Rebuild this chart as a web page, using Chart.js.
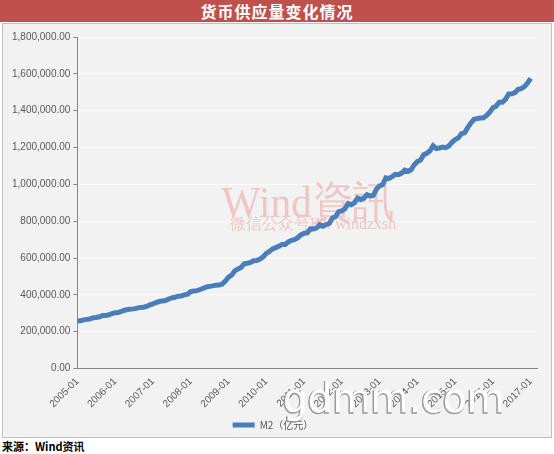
<!DOCTYPE html>
<html>
<head>
<meta charset="utf-8">
<script src="https://cdn.jsdelivr.net/npm/chart.js@4"></script>
<style>
body{margin:0;width:554px;height:454px;background:#fff;font-family:"Noto Sans CJK SC",sans-serif;overflow:hidden;}
#title{position:absolute;left:0;top:0;width:554px;height:22px;background:#c0504d;color:#fff;text-align:center;font-size:16px;font-weight:bold;line-height:22px;letter-spacing:1px;}
#box{position:absolute;left:2px;top:23px;width:548px;height:413px;border:1px solid #bfbfbf;background:#f2f2f2;overflow:hidden;}
#src{position:absolute;left:2px;top:438px;font-size:11px;font-weight:bold;color:#000;}
</style>
</head>
<body>
<div id="title">货币供应量变化情况</div>
<div id="box"><canvas id="chart" width="548" height="416"></canvas></div>
<div id="src">来源：Wind资讯</div>
<script>
// x axis labels, one per year (every 12 months)
const yearLabels=["2005-01","2006-01","2007-01","2008-01","2009-01","2010-01","2011-01","2012-01","2013-01","2014-01","2015-01","2016-01","2017-01"];

// M2 monthly, 2005-01 .. 2017-01 (亿元)
const m2=[
257708,259357,264589,266993,269240,275785,276966,281288,287438,287592,292035,298756,
303572,304516,310491,316709,320214,322756,324011,327885,331865,332747,337504,345578,
351498,358659,364105,367326,369719,377832,383884,387205,393099,394205,399757,403442,
417847,421038,423054,429314,436222,443141,446362,448846,452898,453134,458644,475167,
496135,506708,530627,540481,548264,568917,571586,576699,585405,586644,594604,606225,
625609,636072,649948,656562,663352,673922,674051,687507,696472,699776,710339,725852,
733885,736131,758131,757385,763410,780821,772923,780853,787406,816829,825494,851591,
855899,867172,895566,889605,900049,924991,917483,924894,943688,936405,940737,974149,
992129,998601,1035859,1032551,1042169,1054404,1052212,1061256,1077379,1070242,1079258,1106525,
1123521,1131760,1160687,1168813,1182300,1209588,1194249,1197499,1202051,1199236,1208606,1228374,
1242710,1252249,1275333,1280000,1308000,1333375,1353211,1356910,1359824,1361022,1373957,1392278,
1416319,1424619,1446198,1446245,1461695,1490492,1491560,1497526,1516360,1519469,1530400,1550067,
1575945
];

const seriesName="M2（亿元）";

// Wind watermark behind the line
const watermark={
    id:"watermark",
    beforeDatasetsDraw(chart){
        const c=chart.ctx;
        c.save();
        c.fillStyle="#efc6c6";
        c.textAlign="center";
        c.font="44px 'Liberation Serif', serif";
        c.fillText("Wind資訊",305,181,173);
        c.font="16px 'Liberation Serif', serif";
        c.fillText("微信公众号ID: windzxsh",310,201,170);
        c.restore();
    },
    // site stamp over the axis labels
    afterDraw(chart){
        const c=chart.ctx;
        c.save();
        c.font="40px 'DejaVu Sans', sans-serif";
        c.textAlign="left";
        c.lineWidth=1.5;
        c.strokeStyle="#9a9a9a";
        c.strokeText("gdmm.com",279,379,222);
        c.fillStyle="#ffffff";
        c.fillText("gdmm.com",280,378,222);
        c.restore();
    }
};

new Chart(document.getElementById("chart"),{
    type:"line",
    data:{
        datasets:[{
            label:seriesName,
            data:m2.map((v,i)=>({x:i,y:v})),
            borderColor:"#4a7ebb",
            backgroundColor:"#4a7ebb",
            borderWidth:5,
            pointRadius:0,
            tension:0
        }]
    },
    options:{
        responsive:false,
        animation:false,
        layout:{padding:{top:13,right:14,left:6,bottom:0}},
        plugins:{
            legend:{
                position:"bottom",
                labels:{
                    usePointStyle:true,
                    pointStyle:"line",
                    pointStyleWidth:22,
                    padding:7,
                    color:"#595959",
                    font:{size:10,family:"'Noto Sans CJK SC', sans-serif"}
                }
            },
            tooltip:{enabled:false}
        },
        scales:{
            x:{
                type:"linear",
                min:0,
                max:146,
                afterBuildTicks:s=>{s.ticks=s.ticks.filter(t=>t.value%12===0);},
                ticks:{
                    stepSize:12,
                    includeBounds:false,
                    autoSkip:false,
                    maxRotation:45,
                    minRotation:45,
                    color:"#595959",
                    font:{size:10,family:"Liberation Sans"},
                    callback:v=>yearLabels[v/12]
                },
                grid:{display:false,drawTicks:true,tickLength:4,color:"#868686"},
                border:{color:"#868686"}
            },
            y:{
                min:0,
                max:1800000,
                ticks:{
                    stepSize:200000,
                    color:"#595959",
                    font:{size:10,family:"Liberation Sans"},
                    callback:v=>v.toLocaleString("en-US",{minimumFractionDigits:2,maximumFractionDigits:2})
                },
                grid:{color:"#fbfbfb",lineWidth:1,tickLength:4,tickColor:"#868686"},
                border:{color:"#868686"}
            }
        }
    },
    plugins:[watermark]
});
</script>
</body>
</html>
